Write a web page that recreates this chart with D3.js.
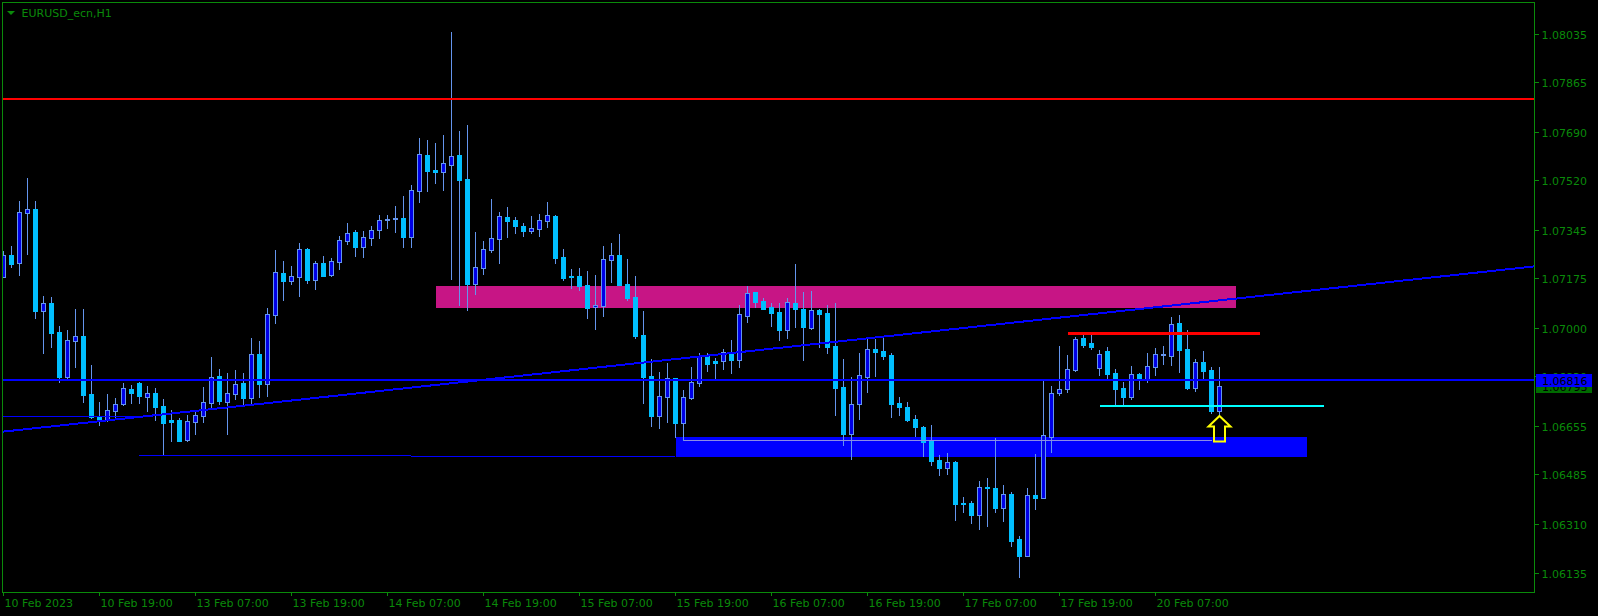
<!DOCTYPE html>
<html><head><meta charset="utf-8">
<script src="https://cdn.jsdelivr.net/npm/d3@7/dist/d3.min.js"></script>
<style>html,body{margin:0;padding:0;background:#000;overflow:hidden}svg{display:block}</style>
</head><body><svg id="c" width="1598" height="616"></svg>
<script>
// ---------------- DATA ----------------
const chartTitle = "EURUSD_ecn,H1";
// hourly bars, bar 0 = 10 Feb 2023 07:00
const opens = [1.07179,1.07256,1.07227,1.07405,1.07418,1.07060,1.07086,1.06984,1.06827,1.06954,
1.06971,1.06766,1.06686,1.06677,1.06708,1.06730,1.06783,1.06805,1.06757,1.06769,
1.06724,1.06675,1.06675,1.06604,1.06669,1.06690,1.06736,1.06830,1.06739,1.06766,
1.06804,1.06753,1.06906,1.06803,1.07046,1.07191,1.07165,1.07179,1.07276,1.07169,
1.07227,1.07186,1.07232,1.07306,1.07336,1.07285,1.07317,1.07343,1.07378,1.07381,
1.07386,1.07318,1.07482,1.07608,1.07555,1.07549,1.07574,1.07608,1.07523,1.07154,
1.07211,1.07273,1.07313,1.07390,1.07379,1.07358,1.07340,1.07347,1.07375,1.07393,
1.07249,1.07182,1.07182,1.07150,1.07072,1.07076,1.07238,1.07256,1.07154,1.07107,
1.06974,1.06830,1.06690,1.06757,1.06823,1.06665,1.06753,1.06806,1.06900,1.06881,
1.06884,1.06907,1.06887,1.07042,1.07124,1.07094,1.07073,1.07055,1.06993,1.07087,
1.07066,1.07000,1.07062,1.07052,1.06935,1.06790,1.06627,1.06730,1.06826,1.06924,
1.06917,1.06903,1.06734,1.06721,1.06678,1.06650,1.06602,1.06534,1.06507,1.06527,
1.06383,1.06383,1.06339,1.06439,1.06435,1.06366,1.06414,1.06256,1.06197,1.06411,
1.06401,1.06616,1.06769,1.06783,1.06851,1.06962,1.06945,1.06859,1.06918,1.06840,
1.06787,1.06757,1.06837,1.06816,1.06862,1.06903,1.06901,1.07015,1.06924,1.06789,
1.06879,1.06851,1.06708];
const highs = [1.07271,1.07287,1.07446,1.07527,1.07446,1.07111,1.07108,1.07006,1.06992,1.07066,
1.07066,1.06868,1.06737,1.06766,1.06753,1.06804,1.06798,1.06810,1.06795,1.06786,
1.06749,1.06710,1.06683,1.06692,1.06704,1.06790,1.06897,1.06854,1.06839,1.06851,
1.06839,1.06964,1.06953,1.07068,1.07273,1.07235,1.07217,1.07297,1.07280,1.07235,
1.07252,1.07244,1.07323,1.07368,1.07344,1.07340,1.07358,1.07397,1.07397,1.07428,
1.07464,1.07502,1.07668,1.07661,1.07650,1.07678,1.08041,1.07692,1.07714,1.07337,
1.07305,1.07453,1.07407,1.07425,1.07390,1.07368,1.07393,1.07400,1.07443,1.07397,
1.07277,1.07206,1.07210,1.07200,1.07185,1.07287,1.07298,1.07330,1.07242,1.07182,
1.07059,1.06890,1.06844,1.06875,1.06823,1.06780,1.06861,1.06911,1.06911,1.06893,
1.06926,1.06956,1.07080,1.07147,1.07124,1.07104,1.07086,1.07086,1.07104,1.07224,
1.07126,1.07129,1.07066,1.07080,1.07087,1.06890,1.06826,1.06911,1.06960,1.06960,
1.06964,1.06910,1.06755,1.06738,1.06691,1.06654,1.06657,1.06552,1.06559,1.06530,
1.06404,1.06390,1.06460,1.06471,1.06611,1.06446,1.06421,1.06266,1.06435,1.06555,
1.06812,1.06795,1.06935,1.06904,1.06968,1.06974,1.06974,1.06921,1.06933,1.06854,
1.06810,1.06865,1.06840,1.06911,1.06929,1.06935,1.07037,1.07045,1.06992,1.06890,
1.06918,1.06861,1.06861];
const lows = [1.07177,1.07215,1.07185,1.07259,1.07035,1.06912,1.06933,1.06810,1.06822,1.06860,
1.06739,1.06681,1.06657,1.06671,1.06677,1.06728,1.06736,1.06734,1.06708,1.06675,
1.06552,1.06601,1.06601,1.06601,1.06626,1.06669,1.06722,1.06731,1.06626,1.06749,
1.06728,1.06731,1.06757,1.06760,1.07017,1.07097,1.07154,1.07111,1.07157,1.07137,
1.07183,1.07182,1.07208,1.07296,1.07253,1.07250,1.07292,1.07317,1.07352,1.07338,
1.07285,1.07285,1.07443,1.07482,1.07510,1.07485,1.07171,1.07080,1.07062,1.07118,
1.07189,1.07266,1.07228,1.07319,1.07333,1.07323,1.07333,1.07323,1.07354,1.07228,
1.07168,1.07140,1.07133,1.07035,1.06995,1.07041,1.07161,1.07150,1.07097,1.06965,
1.06736,1.06655,1.06648,1.06669,1.06616,1.06604,1.06749,1.06795,1.06847,1.06819,
1.06854,1.06840,1.06861,1.07020,1.07073,1.07067,1.07006,1.06956,1.06964,1.07002,
1.06887,1.06996,1.06933,1.06912,1.06692,1.06588,1.06539,1.06679,1.06774,1.06831,
1.06891,1.06686,1.06693,1.06672,1.06620,1.06549,1.06517,1.06482,1.06486,1.06324,
1.06352,1.06313,1.06292,1.06303,1.06351,1.06320,1.06232,1.06123,1.06197,1.06362,
1.06401,1.06563,1.06763,1.06772,1.06848,1.06933,1.06924,1.06833,1.06822,1.06728,
1.06731,1.06748,1.06784,1.06810,1.06833,1.06872,1.06868,1.06845,1.06784,1.06778,
1.06823,1.06699,1.06697];
const closes = [1.07256,1.07224,1.07406,1.07417,1.07060,1.07086,1.06982,1.06827,1.06956,1.06971,
1.06763,1.06684,1.06675,1.06710,1.06730,1.06786,1.06769,1.06759,1.06769,1.06722,
1.06665,1.06669,1.06601,1.06671,1.06692,1.06737,1.06827,1.06742,1.06769,1.06800,
1.06753,1.06906,1.06803,1.07047,1.07195,1.07165,1.07181,1.07276,1.07169,1.07227,
1.07183,1.07234,1.07308,1.07332,1.07285,1.07318,1.07343,1.07378,1.07383,1.07386,
1.07318,1.07485,1.07611,1.07553,1.07549,1.07579,1.07604,1.07520,1.07154,1.07214,
1.07277,1.07316,1.07393,1.07375,1.07358,1.07340,1.07351,1.07379,1.07397,1.07245,
1.07175,1.07178,1.07147,1.07070,1.07080,1.07242,1.07256,1.07151,1.07105,1.06971,
1.06827,1.06690,1.06759,1.06823,1.06665,1.06755,1.06808,1.06900,1.06872,1.06877,
1.06914,1.06886,1.07048,1.07121,1.07091,1.07067,1.07053,1.06992,1.07090,1.07066,
1.07003,1.07062,1.07049,1.06933,1.06789,1.06626,1.06730,1.06832,1.06924,1.06915,
1.06901,1.06732,1.06722,1.06676,1.06651,1.06598,1.06531,1.06507,1.06526,1.06380,
1.06380,1.06341,1.06438,1.06436,1.06366,1.06413,1.06250,1.06197,1.06410,1.06401,
1.06621,1.06770,1.06783,1.06853,1.06959,1.06939,1.06933,1.06906,1.06838,1.06785,
1.06757,1.06836,1.06820,1.06864,1.06906,1.06906,1.07012,1.06922,1.06787,1.06878,
1.06848,1.06708,1.06793];

const priceTickLabels = ["1.08035","1.07865","1.07690","1.07520","1.07345","1.07175","1.07000","1.06830","1.06655","1.06485","1.06310","1.06135"];
const priceTicks = [1.08035,1.07865,1.07690,1.07520,1.07345,1.07175,1.07000,1.06830,1.06655,1.06485,1.06310,1.06135];
const timeTickLabels = ["10 Feb 2023","10 Feb 19:00","13 Feb 07:00","13 Feb 19:00","14 Feb 07:00","14 Feb 19:00","15 Feb 07:00","15 Feb 19:00","16 Feb 07:00","16 Feb 19:00","17 Feb 07:00","17 Feb 19:00","20 Feb 07:00"];
const timeTickBars = [0,12,24,36,48,60,72,84,96,108,120,132,144];

// drawn objects
const resistanceLevel = 1.07806;
const hLineLevel = 1.06816;
const bidPrice = 1.06793;
const supplyBars = [54, 154];
const supplyPrices = [1.07147, 1.07070];
const demandBars = [84, 163];
const demandPrices = [1.06615, 1.06545];
const trendBars = [0, 150];
const trendPrices = [1.06634, 1.07090];
const shortLevelBars = [-5, 17];
const shortLevelPrice = 1.06688;
const floorBars = [17, 84];
const floorPrices = [1.06552, 1.06547];
const innerBars = [85, 151];
const innerPrice = 1.06603;
const redSegBars = [133, 157];
const redSegPrice = 1.06980;
const cyanSegBars = [137, 165];
const cyanSegPrice = 1.06724;
const arrowBar = 152;
const arrowPrice = 1.06689;

// ---------------- DRAW ----------------
const GREEN = "#0a8a0a";
const svg = d3.select("#c").attr("shape-rendering", "crispEdges");
svg.append("rect").attr("width", 1598).attr("height", 616).attr("fill", "#000");

const plot = {l: 3, t: 3, r: 1534, b: 592};
const x = d3.scaleLinear().domain([0, 191]).range([3.5, 3.5 + 8 * 191]);
const y = d3.scaleLinear().domain([1.06135, 1.08035]).range([573.3, 33.7]);
const ry = v => Math.round(y(v));

svg.append("clipPath").attr("id", "clip").append("rect")
  .attr("x", plot.l).attr("y", plot.t).attr("width", plot.r - plot.l).attr("height", plot.b - plot.t);
const g = svg.append("g").attr("clip-path", "url(#clip)");

// background rectangles
function zone(bars, prices, color) {
  g.append("rect")
    .attr("x", Math.round(x(bars[0]))).attr("width", Math.round(x(bars[1])) - Math.round(x(bars[0])))
    .attr("y", ry(prices[0])).attr("height", ry(prices[1]) - ry(prices[0]))
    .attr("fill", color);
}
zone(supplyBars, supplyPrices, "#C71585");
zone(demandBars, demandPrices, "#0000FF");

// candles
const bars = d3.range(opens.length).map(i => ({i, o: opens[i], h: highs[i], l: lows[i], c: closes[i]}));
const WICK = "#6495ED", BULL = "#0000E6", BEAR = "#00BFFF";
const cg = g.append("g");
cg.selectAll("line.w").data(bars).join("line").attr("class", "w")
  .attr("x1", d => x(d.i)).attr("x2", d => x(d.i))
  .attr("y1", d => ry(d.h)).attr("y2", d => ry(d.l) + 1)
  .attr("stroke", WICK).attr("stroke-width", 1);
cg.selectAll("rect.o").data(bars).join("rect").attr("class", "o")
  .attr("x", d => x(d.i) - 2.5).attr("width", 5)
  .attr("y", d => ry(Math.max(d.o, d.c)))
  .attr("height", d => ry(Math.min(d.o, d.c)) - ry(Math.max(d.o, d.c)) + 1)
  .attr("fill", d => d.c >= d.o ? WICK : BEAR);
cg.selectAll("rect.i").data(bars.filter(d => d.c >= d.o && ry(d.o) - ry(d.c) >= 2)).join("rect").attr("class", "i")
  .attr("x", d => x(d.i) - 1.5).attr("width", 3)
  .attr("y", d => ry(d.c) + 1)
  .attr("height", d => ry(d.o) - ry(d.c) - 1)
  .attr("fill", BULL);

// lines
function seg(b0, p0, b1, p1, color, w) {
  const y0 = y(p0), y1 = y(p1);
  const off = w % 2 === 1 ? 0.5 : 0;
  g.append("line").attr("x1", x(b0)).attr("x2", x(b1))
    .attr("y1", Math.round(y0) + off).attr("y2", Math.round(y1) + off)
    .attr("stroke", color).attr("stroke-width", w);
}
seg(shortLevelBars[0], shortLevelPrice, shortLevelBars[1], shortLevelPrice, "#0000FF", 1);
seg(floorBars[0], floorPrices[0], floorBars[1], floorPrices[1], "#0000FF", 1);
seg(innerBars[0], innerPrice, innerBars[1], innerPrice, "#8C8CE6", 1);
// trend ray extended to right edge
{
  const slope = (trendPrices[1] - trendPrices[0]) / (trendBars[1] - trendBars[0]);
  const bEnd = x.invert(plot.r + 2);
  g.append("line").attr("x1", x(trendBars[0]) - 2).attr("x2", x(bEnd))
    .attr("y1", y(trendPrices[0] - slope * 0.25)).attr("y2", y(trendPrices[0] + slope * (bEnd - trendBars[0])))
    .attr("stroke", "#0000FF").attr("stroke-width", 2);
}
seg(-2, hLineLevel, x.invert(plot.r + 2), hLineLevel, "#0000FF", 2);
seg(-2, resistanceLevel, x.invert(plot.r + 2), resistanceLevel, "#FF0000", 2);
seg(redSegBars[0], redSegPrice, redSegBars[1], redSegPrice, "#FF0000", 3);
seg(cyanSegBars[0], cyanSegPrice, cyanSegBars[1], cyanSegPrice, "#00FFFF", 2);

// arrow (hollow up arrow)
{
  const ax = x(arrowBar), ay = ry(arrowPrice);
  const p = d3.path();
  p.moveTo(ax, ay); p.lineTo(ax + 11, ay + 10.5); p.lineTo(ax + 5.5, ay + 10.5);
  p.lineTo(ax + 5.5, ay + 25.5); p.lineTo(ax - 5.5, ay + 25.5); p.lineTo(ax - 5.5, ay + 10.5);
  p.lineTo(ax - 11, ay + 10.5); p.closePath();
  g.append("path").attr("d", p.toString()).attr("fill", "none")
    .attr("stroke", "#FFFF00").attr("stroke-width", 2).attr("stroke-linejoin", "miter")
    .attr("shape-rendering", "auto");
}

// frame
svg.append("rect").attr("x", 2.5).attr("y", 2.5).attr("width", plot.r - 2).attr("height", plot.b - 2)
  .attr("fill", "none").attr("stroke", GREEN).attr("stroke-width", 1);

const font = "'DejaVu Sans', sans-serif";
// price axis
const pa = svg.append("g");
priceTicks.forEach((v, i) => {
  const yy = ry(v);
  pa.append("line").attr("x1", plot.r + 1).attr("x2", plot.r + 5).attr("y1", yy + 0.5).attr("y2", yy + 0.5)
    .attr("stroke", GREEN);
  pa.append("text").attr("x", 1541.5).attr("y", yy + 4.5).text(priceTickLabels[i])
    .attr("fill", GREEN).attr("font-family", font).attr("font-size", 11);
});
// time axis
timeTickBars.forEach((b, i) => {
  const xx = x(b);
  pa.append("line").attr("x1", xx).attr("x2", xx).attr("y1", plot.b + 1).attr("y2", plot.b + 4)
    .attr("stroke", GREEN);
  pa.append("text").attr("x", xx + 1).attr("y", 607).text(timeTickLabels[i])
    .attr("fill", GREEN).attr("font-family", font).attr("font-size", 11);
});

// price labels
function priceLabel(v, bg) {
  const yy = ry(v);
  pa.append("rect").attr("x", 1536).attr("y", yy - 6).attr("width", 56).attr("height", 13).attr("fill", bg);
  pa.append("text").attr("x", 1542).attr("y", yy + 4.5).text(d3.format(".5f")(v))
    .attr("fill", "#000").attr("font-family", font).attr("font-size", 11);
}
priceLabel(bidPrice, "#006A00");
priceLabel(hLineLevel, "#0000FF");

// title
svg.append("path").attr("d", `M7,11 L15,11 L11,15 Z`).attr("fill", GREEN).attr("shape-rendering", "auto");
svg.append("text").attr("x", 21.5).attr("y", 17).text(chartTitle)
  .attr("fill", GREEN).attr("font-family", font).attr("font-size", 11);
</script></body></html>
